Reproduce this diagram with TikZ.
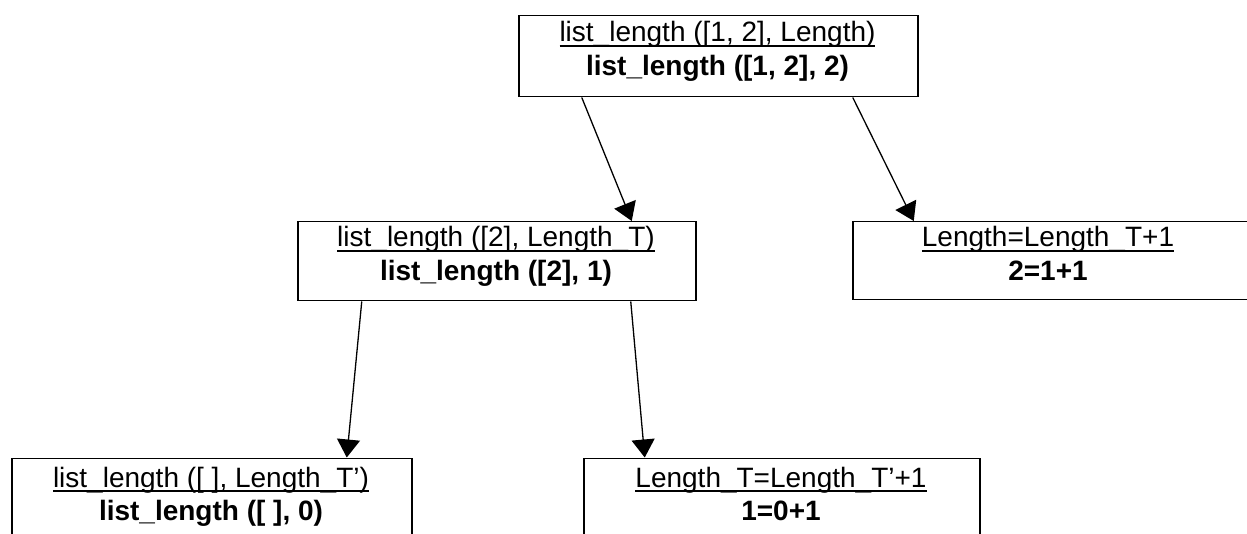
\documentclass[tikz,border=0pt]{standalone}
\usepackage{fontspec}
\setmainfont{Liberation Sans}
\usetikzlibrary{arrows.meta}
\newcommand\ulin[1]{\setbox0\hbox{#1}\rlap{\rule[-5.2pt]{\wd0}{1.8pt}}\box0}
\tikzset{
  box/.style={draw, line width=1.5pt, inner sep=0pt, anchor=north west},
  lbl/.style={anchor=base, inner sep=0pt, font=\fontsize{28}{34}\selectfont},
  blbl/.style={anchor=base, inner sep=0pt, font=\fontsize{28}{34}\selectfont\bfseries},
  arr/.style={-{Triangle[width=23pt,length=18pt]}, line width=1.3pt}
}
\begin{document}
\begin{tikzpicture}[x=1pt,y=-1pt]
\useasboundingbox (0,0) rectangle (1247,534);
\clip (0,0) rectangle (1247,534);
% boxes
\node[box, minimum width=399pt, minimum height=81pt] (top) at (518,15) {};
\node[box, minimum width=398pt, minimum height=79pt] (mid) at (297,221) {};
\node[box, minimum width=400pt, minimum height=78pt] (rgt) at (852,221) {};
\node[box, minimum width=400pt, minimum height=80pt] (bl) at (11,457.5) {};
\node[box, minimum width=396pt, minimum height=80pt] (bm) at (583,457.5) {};
% texts
\node[lbl]  (topA) at (717.5,42) {\ulin{list\_length ([1, 2], Length)}};
\node[blbl] (topB) at (717.5,76) {list\_length ([1, 2], 2)};
\node[lbl]  (midA) at (496,247) {\ulin{list\_length ([2], Length\_T)}};
\node[blbl] (midB) at (496,281) {list\_length ([2], 1)};
\node[lbl]  (rgtA) at (1048,247) {\ulin{Length=Length\_T+1}};
\node[blbl] (rgtB) at (1048,281) {2=1+1};
\node[lbl]  (blA) at (211,487) {\ulin{list\_length ([ ], Length\_T’)}};
\node[blbl] (blB) at (211,520) {list\_length ([ ], 0)};
\node[lbl]  (bmA) at (781,487) {\ulin{Length\_T=Length\_T’+1}};
\node[blbl] (bmB) at (781,520) {1=0+1};
% arrows
\draw[arr] ([xshift=-136.5pt]top.south) -- ([xshift=135pt]mid.north);
\draw[arr] ([xshift=134.5pt]top.south) -- ([xshift=-139pt]rgt.north);
\draw[arr] ([xshift=-135pt]mid.south) -- ([xshift=135pt]bl.north);
\draw[arr] ([xshift=134pt]mid.south) -- ([xshift=-137pt]bm.north);
\end{tikzpicture}
\end{document}
